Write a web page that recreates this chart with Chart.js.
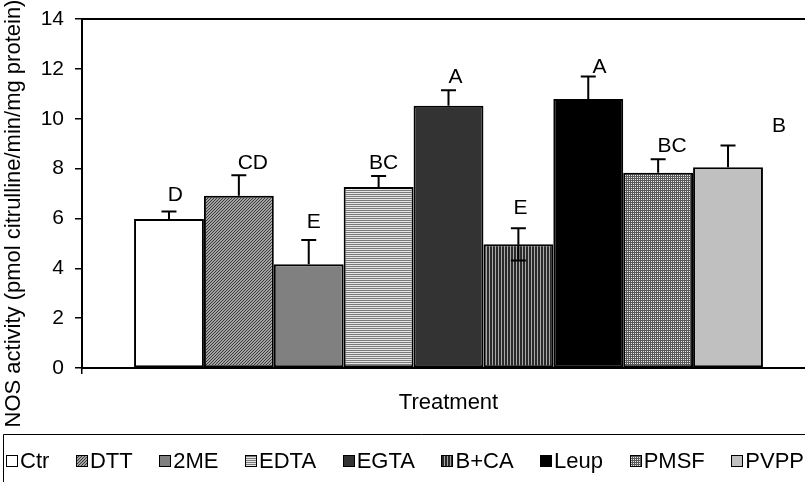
<!DOCTYPE html>
<html><head><meta charset="utf-8">
<script src="https://cdn.jsdelivr.net/npm/chart.js@4.4.0/dist/chart.umd.min.js"></script>
<style>
html,body{margin:0;padding:0;background:#fff;overflow:hidden;width:805px;height:482px}
#wrap{width:840px;height:482px;position:relative}
</style>
</head><body><div id="wrap"><canvas id="c" width="840" height="482"></canvas></div>
<script>
const treatments = ['Ctr','DTT','2ME','EDTA','EGTA','B+CA','Leup','PMSF','PVPP'];
const nosActivity = [5.98, 6.91, 4.16, 7.26, 10.52, 4.96, 10.79, 7.83, 8.05];
const errUp   = [0.30, 0.82, 0.97, 0.44, 0.62, 0.65, 0.90, 0.54, 0.88];
const errDown = [0, 0, 0, 0, 0, 0.65, 0, 0, 0];
const sigLetters = ['D','CD','E','BC','A','E','A','BC','B'];
const letterY = [6.94, 8.22, 5.86, 8.22, 11.67, 6.42, 12.07, 8.90, 9.71];
const letterShift = [0.09, 0.2, 0.07, 0.07, 0.1, 0.03, 0.16, 0.2, 0.73];
const yTickMax = 14, yTickStep = 2;
const xTitle = 'Treatment';
const yTitle = 'NOS activity (pmol citrulline/min/mg protein)';

const FONT = "'Liberation Sans', Arial, sans-serif";
const cv = document.getElementById('c');
const ctx0 = cv.getContext('2d');
function pat(w, h, fn) {
  const c = document.createElement('canvas'); c.width = w; c.height = h;
  const x = c.getContext('2d');
  for (let i = 0; i < w; i++) for (let j = 0; j < h; j++) { x.fillStyle = fn(i, j); x.fillRect(i, j, 1, 1); }
  return ctx0.createPattern(c, 'repeat');
}
const fills = [
  '#ffffff',
  pat(3, 3, (i, j) => ((i + j) % 3 === 0 ? '#3a3a3a' : '#a2a2a2')),
  '#808080',
  pat(1, 2, (i, j) => (j === 0 ? '#7a7a7a' : '#e6e6e6')),
  '#333333',
  pat(3, 1, (i) => (i === 0 ? '#a8a8a8' : '#2a2a2a')),
  '#000000',
  pat(2, 2, (i, j) => (i === 1 && j === 1 ? '#e8e8e8' : '#5a5a5a')),
  '#c0c0c0'
];

const datasets = treatments.map((t, i) => ({
  label: t, data: [nosActivity[i]], backgroundColor: fills[i],
  borderColor: '#000', borderWidth: 2, borderSkipped: false,
  categoryPercentage: 0.858, barPercentage: 1.0
}));

const framePlugin = {
  id: 'frame',
  beforeDatasetsDraw(chart) {
    const { ctx, chartArea: a } = chart;
    ctx.save(); ctx.strokeStyle = '#000'; ctx.lineWidth = 2;
    ctx.strokeRect(a.left, a.top, a.right - a.left, a.bottom - a.top);
    ctx.restore();
  }
};
const errPlugin = {
  id: 'errs',
  afterDatasetsDraw(chart) {
    const { ctx } = chart; const ys = chart.scales.y;
    ctx.save(); ctx.strokeStyle = '#000'; ctx.lineWidth = 2;
    chart.data.datasets.forEach((ds, i) => {
      const bar = chart.getDatasetMeta(i).data[0];
      const v = nosActivity[i];
      const segs = [];
      if (errUp[i]) segs.push(v + errUp[i]);
      if (errDown[i]) segs.push(v - errDown[i]);
      segs.forEach(e => {
        const y0 = ys.getPixelForValue(v), y1 = ys.getPixelForValue(e);
        ctx.beginPath(); ctx.moveTo(bar.x, y0); ctx.lineTo(bar.x, y1);
        ctx.moveTo(bar.x - 7.5, y1); ctx.lineTo(bar.x + 7.5, y1); ctx.stroke();
      });
      ctx.fillStyle = '#000'; ctx.font = '21px ' + FONT;
      ctx.textAlign = 'center'; ctx.textBaseline = 'middle';
      ctx.fillText(sigLetters[i], bar.x + letterShift[i] * bar.width, ys.getPixelForValue(letterY[i]));
    });
    ctx.restore();
  }
};
const textPlugin = {
  id: 'texts',
  afterDraw(chart) {
    const { ctx, chartArea: a } = chart;
    ctx.save();
    ctx.fillStyle = '#000'; ctx.font = '22px ' + FONT;
    ctx.translate(14, (a.top + a.bottom) / 2 + 20); ctx.rotate(-Math.PI / 2);
    ctx.textAlign = 'center'; ctx.textBaseline = 'middle';
    ctx.fillText(yTitle, 0, 0);
    ctx.restore();
    ctx.save();
    const top = 434, cy = 461, F = 22, B = 12, g1 = 2, x0 = 6, xEnd = 804;
    ctx.strokeStyle = '#000'; ctx.lineWidth = 1;
    ctx.beginPath(); ctx.moveTo(3.5, 500); ctx.lineTo(3.5, top + 0.5); ctx.lineTo(840, top + 0.5); ctx.stroke();
    ctx.font = F + 'px ' + FONT; ctx.textBaseline = 'middle'; ctx.textAlign = 'left';
    const ws = treatments.map(t => ctx.measureText(t).width);
    const total = ws.reduce((s, w) => s + w, 0) + treatments.length * (B + g1);
    const gap = (xEnd - x0 - total) / (treatments.length - 1);
    let x = x0;
    treatments.forEach((t, i) => {
      const by = Math.round(cy - B / 2) + 0.5;
      ctx.fillStyle = fills[i]; ctx.fillRect(Math.round(x) + 0.5, by, B - 1, B - 1);
      ctx.strokeRect(Math.round(x) + 0.5, by, B - 1, B - 1);
      ctx.fillStyle = '#000'; ctx.fillText(t, x + B + g1, cy + 1);
      x += B + g1 + ws[i] + gap;
    });
    ctx.restore();
  }
};

new Chart(cv, {
  type: 'bar',
  data: { labels: [''], datasets },
  options: {
    responsive: false, animation: false, maintainAspectRatio: false,
    layout: { padding: { left: 0, top: 19, right: 25, bottom: 0 } },
    plugins: { legend: { display: false }, tooltip: { enabled: false } },
    scales: {
      x: {
        afterFit: s => { s.height = 114; s.paddingLeft = 0; s.paddingRight = 0; },
        grid: { drawOnChartArea: false, drawTicks: true, tickLength: 6, color: '#000', lineWidth: 1.5 },
        border: { color: '#000', width: 2 },
        ticks: { display: false },
        title: { display: true, text: xTitle, color: '#000', font: { family: FONT, size: 22 }, padding: { top: 0, bottom: 66 } }
      },
      y: {
        min: 0, max: yTickMax,
        afterFit: s => { s.width = 82; s.paddingTop = 0; s.paddingBottom = 0; },
        ticks: { stepSize: yTickStep, color: '#000', font: { family: FONT, size: 21 }, padding: 11 },
        grid: { drawOnChartArea: false, drawTicks: true, tickLength: 7, color: '#000', lineWidth: 1.5 },
        border: { color: '#000', width: 2 }
      }
    }
  },
  plugins: [framePlugin, errPlugin, textPlugin]
});
</script></body></html>
